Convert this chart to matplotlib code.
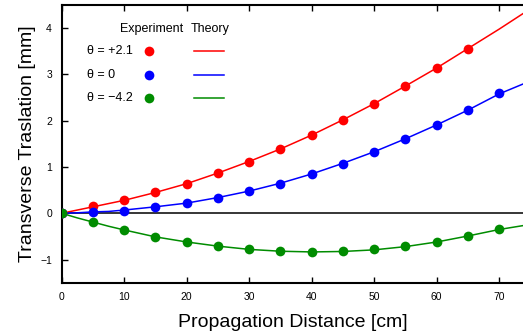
import matplotlib
matplotlib.use("Agg")
import matplotlib.pyplot as plt

plt.rcParams['font.family'] = ['Liberation Sans', 'DejaVu Sans']

# experiment points
x_red = [0, 5, 10, 15, 20, 25, 30, 35, 40, 45, 50, 55, 60, 65]
y_red = [0, 0.15, 0.28, 0.45, 0.64, 0.87, 1.11, 1.39, 1.69, 2.02, 2.37, 2.75, 3.14, 3.56]
x_blue = [0, 5, 10, 15, 20, 25, 30, 35, 40, 45, 50, 55, 60, 65, 70]
y_blue = [0, 0.03, 0.06, 0.14, 0.22, 0.33, 0.49, 0.64, 0.85, 1.07, 1.33, 1.60, 1.90, 2.23, 2.59]
x_green = [0, 5, 10, 15, 20, 25, 30, 35, 40, 45, 50, 55, 60, 65, 70]
y_green = [0, -0.19, -0.36, -0.51, -0.62, -0.71, -0.78, -0.81, -0.83, -0.82, -0.78, -0.71, -0.61, -0.49, -0.34]

# theory curves
x_th = [0, 2.5, 5, 7.5, 10, 15, 20, 25, 30, 35, 40, 45, 50, 55, 60, 65, 70, 75]
th_red = [0, 0.07, 0.14, 0.21, 0.28, 0.45, 0.64, 0.87, 1.12, 1.39, 1.69, 2.02, 2.37, 2.75, 3.14, 3.56, 3.98, 4.42]
th_blue = [0, 0.01, 0.03, 0.04, 0.07, 0.14, 0.22, 0.34, 0.48, 0.65, 0.85, 1.08, 1.33, 1.61, 1.91, 2.23, 2.58, 2.86]
th_green = [0, -0.10, -0.19, -0.28, -0.36, -0.51, -0.62, -0.71, -0.78, -0.82, -0.835, -0.825, -0.79, -0.72, -0.62, -0.49, -0.35, -0.24]

labels = ['θ = +2.1', 'θ = 0', 'θ = −4.2']
colors = ['#ff0000', '#0000ff', '#008c00']

fig = plt.figure(figsize=(5.23, 3.36), dpi=100)
ax = fig.add_axes([0.118, 0.1586, 0.882, 0.8265])

ax.axhline(0, color='black', lw=1.1, zorder=1)

series = [(x_red, y_red, th_red), (x_blue, y_blue, th_blue), (x_green, y_green, th_green)]
for (xe, ye, yt), c in zip(series, colors):
    ax.plot(x_th, yt, color=c, lw=1.1, zorder=2)
    ax.plot(xe, ye, 'o', color=c, ms=7, mec='none', zorder=3)

# hand-made legend
ax.text(14.4, 3.98, 'Experiment', ha='center', va='center', fontsize=9)
ax.text(23.7, 3.98, 'Theory', ha='center', va='center', fontsize=9)
for i, (lab, c) in enumerate(zip(labels, colors)):
    yy = 3.5 - 0.505 * i
    ax.text(4.0, yy, lab, ha='left', va='center', fontsize=9)
    ax.plot([14.0], [yy], 'o', color=c, ms=7, mec='none')
    ax.plot([21.1, 26.0], [yy, yy], color=c, lw=1.1)

ax.set_xlim(0, 73.8)
ax.set_ylim(-1.5, 4.5)
ax.set_xticks([0, 10, 20, 30, 40, 50, 60, 70])
ax.set_yticks([-1, 0, 1, 2, 3, 4])
ax.set_yticklabels(['−1', '0', '1', '2', '3', '4'])
ax.tick_params(direction='in', length=4, width=1, labelsize=7.5, pad=7,
               top=True, right=False)
ax.spines['right'].set_visible(False)
for s in ['left', 'top', 'bottom']:
    ax.spines[s].set_linewidth(1.5)

ax.set_xlabel('Propagation Distance [cm]', fontsize=14, labelpad=8)
ax.set_ylabel('Transverse Traslation [mm]', fontsize=14, labelpad=3)

fig.savefig('out.png', dpi=100)
